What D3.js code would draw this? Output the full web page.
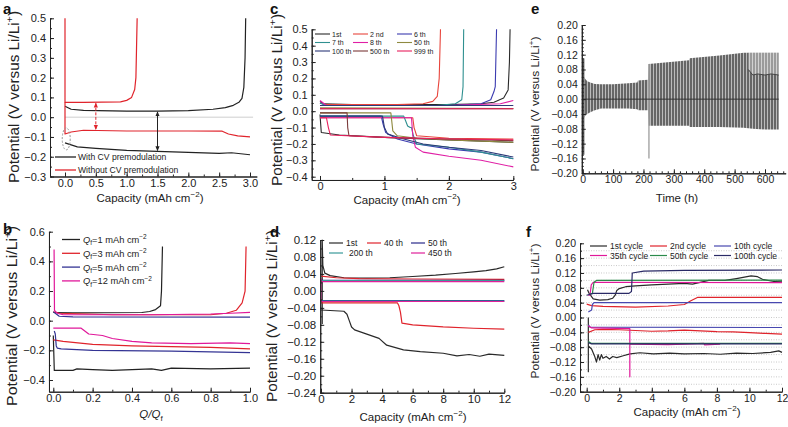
<!DOCTYPE html>
<html><head><meta charset="utf-8">
<script src="https://cdn.jsdelivr.net/npm/d3@7"></script>
<style>
body{margin:0;background:#fff}
svg{display:block}
</style></head><body>
<svg id="chart" width="788" height="427"></svg>
<script>
// ---------------- DATA ----------------
// Panel a
const aLegend = ["With CV premodulation", "Without CV premodulation"];
const aWithCharge = [[0,0.055],[0.1,0.04],[0.3,0.034],[1.0,0.031],[1.5,0.031],[2.0,0.033],[2.4,0.04],[2.6,0.048],[2.73,0.06],[2.82,0.075],[2.87,0.095],[2.9,0.15],[2.92,0.3],[2.93,0.5]];
const aWithDischarge = [[0,-0.13],[0.2,-0.15],[0.5,-0.158],[1.0,-0.168],[1.5,-0.173],[2.0,-0.178],[2.5,-0.183],[2.7,-0.18],[2.85,-0.185],[3.0,-0.19]];
const aWithoutCharge = [[0,0.5],[0,0.075],[0.3,0.075],[0.9,0.077],[1.0,0.085],[1.08,0.1],[1.13,0.14],[1.15,0.2],[1.16,0.35],[1.17,0.5]];
const aWithoutDischarge = [[0,0.075],[0,-0.085],[0.1,-0.075],[0.3,-0.066],[1.0,-0.07],[2.0,-0.07],[2.55,-0.071],[2.65,-0.085],[2.8,-0.095],[3.0,-0.1]];
const aGapX = [0.5, 1.5];
const aGapHi = [0.075, 0.031];
const aGapLo = [-0.066, -0.173];

// Panel b
const bLegendQ = ["1", "3", "5", "12"];
const bCharge = [
  [[0,0.055],[0.1,0.053],[0.45,0.055],[0.49,0.062],[0.52,0.075],[0.545,0.1],[0.55,0.2],[0.555,0.5]],
  [[0,0.06],[0.03,0.05],[0.3,0.04],[0.8,0.04],[0.88,0.05],[0.93,0.07],[0.96,0.12],[0.975,0.2],[0.98,0.5]],
  [[0,0.06],[0.03,0.03],[0.1,0.025],[1.0,0.024]],
  [[0.004,0.48],[0.006,0.07],[0.02,0.05],[0.05,0.04],[0.5,0.04],[0.8,0.045],[0.9,0.05],[1.0,0.056]]
];
const bDischarge = [
  [[0,-0.1],[0.005,-0.335],[0.1,-0.335],[0.12,-0.325],[0.2,-0.33],[0.3,-0.335],[0.4,-0.33],[0.5,-0.325],[0.55,-0.335],[0.6,-0.32],[0.8,-0.325],[1.0,-0.32]],
  [[0,-0.13],[0.05,-0.14],[0.2,-0.16],[0.4,-0.17],[0.6,-0.175],[0.8,-0.18],[1.0,-0.19]],
  [[0.005,-0.07],[0.01,-0.09],[0.015,-0.17],[0.02,-0.185],[0.04,-0.19],[0.2,-0.2],[0.6,-0.205],[1.0,-0.215]],
  [[0,-0.05],[0.14,-0.05],[0.16,-0.07],[0.18,-0.09],[0.25,-0.1],[0.3,-0.12],[0.4,-0.14],[0.5,-0.15],[0.7,-0.155],[0.9,-0.15],[1.0,-0.155]]
];

// Panel c
const cCycles = ["1st","2 nd","6 th","7 th","8 th","50 th","100 th","500 th","999 th"];
const cCharge = [
  [[0,0.06],[0.05,0.045],[0.5,0.04],[2.0,0.04],[2.5,0.045],[2.7,0.055],[2.85,0.08],[2.92,0.13],[2.94,0.3],[2.95,0.5]],
  [[0,0.05],[0.1,0.04],[1.2,0.04],[1.6,0.045],[1.75,0.06],[1.82,0.09],[1.85,0.2],[1.87,0.5]],
  [[0,0.05],[0.1,0.035],[2.0,0.035],[2.5,0.045],[2.65,0.07],[2.7,0.12],[2.72,0.15],[2.74,0.5]],
  [[0,0.05],[0.1,0.035],[1.8,0.035],[2.1,0.045],[2.2,0.07],[2.22,0.15],[2.23,0.5]],
  [[0,0.065],[0.1,0.035],[2.0,0.035],[2.8,0.045],[3.0,0.065]],
  [[0,0.02],[3.0,0.016]],
  [[0,0.035],[3.0,0.035]],
  [[0,0.015],[3.0,0.015]],
  [[0,0.015],[3.0,0.015]]
];
const cDischarge = [
  [[0,-0.02],[0.02,-0.13],[0.3,-0.145],[1.0,-0.16],[2.0,-0.175],[3.0,-0.19]],
  [[0,-0.04],[1.44,-0.04],[1.46,-0.1],[1.5,-0.15],[2.0,-0.165],[3.0,-0.17]],
  [[0,-0.03],[0.95,-0.03],[0.98,-0.08],[1.02,-0.13],[1.2,-0.17],[1.5,-0.2],[2.0,-0.23],[2.5,-0.25],[3.0,-0.29]],
  [[0,-0.03],[1.3,-0.03],[1.33,-0.06],[1.36,-0.09],[1.4,-0.1],[1.42,-0.1],[1.45,-0.15],[1.5,-0.2],[2.0,-0.22],[2.5,-0.25],[3.0,-0.29]],
  [[0,-0.04],[1.42,-0.04],[1.44,-0.15],[1.48,-0.22],[1.6,-0.25],[2.0,-0.275],[2.5,-0.3],[3.0,-0.34]],
  [[0,-0.01],[1.1,-0.01],[1.13,-0.12],[1.2,-0.15],[1.5,-0.165],[2.0,-0.175],[3.0,-0.19]],
  [[0,-0.03],[0.97,-0.03],[1.0,-0.1],[1.05,-0.14],[1.3,-0.17],[1.6,-0.2],[2.0,-0.22],[2.5,-0.24],[3.0,-0.28]],
  [[0,-0.01],[0.42,-0.01],[0.43,-0.1],[0.45,-0.15],[1.0,-0.16],[2.0,-0.17],[3.0,-0.18]],
  [[0,-0.04],[0.1,-0.04],[0.13,-0.1],[0.16,-0.145],[1.0,-0.16],[2.0,-0.17],[3.0,-0.175]]
];

// Panel d
const dCycles = ["1st","40 th","50 th","200 th","450 th"];
const dCharge = [
  [[0.08,-0.078],[0.08,0.12],[0.12,0.06],[0.25,0.042],[0.6,0.036],[1.5,0.031],[3,0.03],[4.5,0.031],[6,0.034],[7.5,0.037],[8.8,0.041],[10,0.045],[10.8,0.048],[11.5,0.052],[12,0.057]],
  [[0,0.035],[1,0.031],[2.5,0.029],[6,0.028],[12,0.027]],
  [[0,0.025],[12,0.025]],
  [[0,0.024],[12,0.024]],
  [[0,0.022],[12,0.022]]
];
const dDischarge = [
  [[0,-0.045],[1.5,-0.048],[1.7,-0.055],[1.85,-0.07],[2.0,-0.085],[2.2,-0.092],[3.0,-0.102],[3.8,-0.112],[4.3,-0.128],[5.4,-0.139],[6.5,-0.143],[8.0,-0.147],[8.9,-0.153],[9.7,-0.15],[10.4,-0.154],[11,-0.149],[12,-0.152]],
  [[0,-0.028],[5.0,-0.028],[5.1,-0.035],[5.2,-0.05],[5.3,-0.076],[6,-0.08],[8,-0.085],[10,-0.088],[12,-0.09]],
  [[0,-0.023],[12,-0.023]],
  [[0,-0.024],[12,-0.024]],
  [[0,0.03],[0,-0.025],[12,-0.025]]
];

// Panel e (envelope of the cycling trace)
const eTime  = [0, 5, 8, 15, 25, 40, 60, 100, 150, 180, 182, 215, 217, 350, 352, 450, 530, 560, 600, 645];
const eUpper = [0.06, 0.06, 0.055, 0.048, 0.045, 0.041, 0.04, 0.04, 0.043, 0.045, 0.05, 0.052, 0.095, 0.105, 0.11, 0.118, 0.125, 0.125, 0.125, 0.125];
const eLower = [-0.05, -0.05, -0.045, -0.04, -0.035, -0.03, -0.025, -0.025, -0.025, -0.027, -0.03, -0.03, -0.072, -0.072, -0.075, -0.075, -0.077, -0.08, -0.082, -0.082];
const eInnerTime = [545, 560, 575, 600, 620, 645];
const eInnerVal  = [0.08, 0.065, 0.068, 0.065, 0.068, 0.065];
const eSpikeTime = [3, 218];
const eSpikeHi   = [0.11, 0.095];
const eSpikeLo   = [-0.15, -0.16];

// Panel f
const fCycles = ["1st cycle","2nd cycle","10th cycle","35th cycle","50th cycle","100th cycle"];
const fCharge = [
  [[0.05,0.075],[0.15,0.065],[0.4,0.05],[0.8,0.047],[1.3,0.048],[1.6,0.052],[1.75,0.06],[1.85,0.073],[2.0,0.078],[2.4,0.083],[3.0,0.085],[4.0,0.088],[5,0.09],[6.0,0.092],[6.5,0.09],[7.5,0.1],[8.5,0.1],[9.2,0.105],[10.1,0.112],[10.5,0.11],[10.8,0.103],[11.5,0.097],[12,0.098]],
  [[0,0.036],[0.3,0.032],[1,0.03],[3,0.028],[5,0.031],[6.0,0.035],[6.4,0.045],[6.8,0.054],[12,0.054]],
  [[0.1,0.015],[0.3,0.02],[0.35,0.035],[0.45,0.04],[12,0.04]],
  [[0.1,0.06],[0.2,0.06],[0.28,0.088],[0.4,0.095],[12,0.094]],
  [[0.15,0.062],[0.35,0.065],[0.45,0.095],[0.6,0.1],[12,0.101]],
  [[0,0.06],[0.4,0.065],[2.6,0.065],[2.75,0.07],[2.8,0.12],[3.5,0.125],[6,0.127],[12,0.128]]
];
const fDischarge = [
  [[0.1,0.0],[0.1,-0.146],[0.1,-0.077],[0.3,-0.085],[0.5,-0.106],[0.6,-0.12],[0.7,-0.1],[0.8,-0.115],[0.9,-0.1],[1.0,-0.11],[1.2,-0.105],[1.4,-0.112],[1.6,-0.105],[1.85,-0.108],[2.25,-0.103],[2.66,-0.098],[3.27,-0.095],[4.1,-0.098],[5.1,-0.096],[6,-0.098],[7.2,-0.097],[8.2,-0.099],[9.2,-0.096],[10.2,-0.097],[11.3,-0.094],[11.8,-0.09],[12,-0.094]],
  [[0.1,-0.04],[0.5,-0.033],[1,-0.032],[2,-0.033],[3,-0.035],[4,-0.037],[5,-0.036],[6,-0.034],[7,-0.036],[8,-0.038],[9,-0.039],[10,-0.041],[11,-0.043],[12,-0.045]],
  [[0.1,-0.02],[0.2,-0.026],[12,-0.027]],
  [[0.1,-0.022],[0.3,-0.028],[2.65,-0.03],[2.65,-0.16],[2.65,-0.072],[2.8,-0.072],[5,-0.073],[6,-0.072],[7.2,-0.07],[7.25,-0.074],[8.2,-0.072]],
  [[0.1,-0.065],[0.3,-0.07],[12,-0.07]],
  [[0.1,-0.068],[0.3,-0.071],[12,-0.071]]
];

// ---------------- DRAWING ----------------
const FONT = '"Liberation Sans", Arial, Helvetica, sans-serif';
const svg = d3.select("#chart").attr("font-family", FONT);
const defs = svg.append("defs");

function rich(sel, parts, size) {
  let shift = 0;
  parts.forEach(([t, k]) => {
    const ts = sel.append("tspan").text(t);
    let target = 0, fs = size;
    if (k.includes("sup")) { target = -size * 0.4; fs = size * 0.7; }
    if (k.includes("sub")) { target = size * 0.25; fs = size * 0.7; }
    ts.attr("dy", target - shift).attr("font-size", fs);
    if (k.includes("i")) ts.attr("font-style", "italic");
    shift = target;
  });
  return sel;
}
const capParts = [["Capacity (mAh cm","n"],["\u22122","sup"],[")","n"]];
const potParts = [["Potential (V versus Li/Li","n"],["+","sup"],[")","n"]];

function panel(cfg) {
  const g = svg.append("g");
  const x = d3.scaleLinear().domain(cfg.xAnchor).range(cfg.xPx);
  const y = d3.scaleLinear().domain(cfg.yAnchor).range(cfg.yPx);
  const xa = d3.scaleLinear().domain(cfg.xFrame).range(cfg.xFrame.map(x));
  const ya = d3.scaleLinear().domain(cfg.yFrame).range(cfg.yFrame.map(y));
  const by = y(cfg.yFrame[0]), lx = x(cfg.xFrame[0]);
  const plot = g.append("g");
  const axG = g.append("g");
  const st = s => {
    s.attr("font-family", FONT).attr("font-size", cfg.tickFont || 11);
    s.selectAll("path,line").attr("stroke", "#222").attr("stroke-width", 1);
    s.selectAll("text").attr("fill", "#222");
  };
  axG.append("g").attr("transform", `translate(0,${by})`)
    .call(d3.axisBottom(xa).tickValues(cfg.xMinor).tickSize(-2).tickSizeOuter(0).tickFormat("")).call(st);
  axG.append("g").attr("transform", `translate(0,${by})`)
    .call(d3.axisBottom(xa).tickValues(cfg.xTicks).tickSize(-4).tickSizeOuter(0).tickPadding(2.5).tickFormat(d3.format(cfg.xFmt))).call(st);
  axG.append("g").attr("transform", `translate(${lx},0)`)
    .call(d3.axisLeft(ya).tickValues(cfg.yMinor).tickSize(-2).tickSizeOuter(0).tickFormat("")).call(st);
  axG.append("g").attr("transform", `translate(${lx},0)`)
    .call(d3.axisLeft(ya).tickValues(cfg.yTicks).tickSize(-4).tickSizeOuter(0).tickPadding(4).tickFormat(d3.format(cfg.yFmt))).call(st);
  const xt = g.append("text").attr("x", cfg.xTitlePos[0]).attr("y", cfg.xTitlePos[1])
    .attr("text-anchor", "middle").attr("font-size", 11.5).attr("fill", "#222");
  rich(xt, cfg.xTitle, 11.5);
  const yt = g.append("text").attr("transform", `translate(${cfg.yTitlePos[0]},${cfg.yTitlePos[1]}) rotate(-90)`)
    .attr("text-anchor", "middle").attr("font-size", cfg.yTitleFont).attr("fill", "#222")
    .attr("textLength", cfg.yTitleLen).attr("lengthAdjust", "spacingAndGlyphs");
  rich(yt, potParts, cfg.yTitleFont);
  g.append("text").attr("x", cfg.letterPos[0]).attr("y", cfg.letterPos[1]).attr("font-weight", "bold")
    .attr("font-size", 15).attr("fill", "#111").text(cfg.letter);
  return { g, plot, x, y };
}
function line(p, data, color, w) {
  p.plot.append("path").datum(data)
    .attr("d", d3.line().x(d => p.x(d[0])).y(d => p.y(d[1])))
    .attr("fill", "none").attr("stroke", color).attr("stroke-width", w || 1.2)
    .attr("stroke-linejoin", "round");
}
function legendLine(g, x1, x2, y, color, w) {
  g.append("line").attr("x1", x1).attr("x2", x2).attr("y1", y).attr("y2", y)
    .attr("stroke", color).attr("stroke-width", w || 1.3);
}

// ---- Panel a ----
const pa = panel({
  xAnchor: [0, 3], xPx: [65, 250], yAnchor: [0.5, -0.3], yPx: [18.3, 176.5],
  xFrame: [-0.243, 3.11], yFrame: [-0.3, 0.5],
  xTicks: d3.range(0, 3.01, 0.5), xMinor: d3.range(0, 3.01, 0.25), xFmt: ".1f",
  yTicks: d3.range(-0.3, 0.51, 0.1).map(v => +v.toFixed(2)), yMinor: d3.range(-0.3, 0.51, 0.05).map(v => +v.toFixed(3)), yFmt: ".1f",
  xTitle: capParts, xTitlePos: [150, 202], yTitlePos: [19, 97], yTitleFont: 14, yTitleLen: 172,
  letter: "a", letterPos: [3, 14]
});
pa.plot.append("line").attr("x1", pa.x(0)).attr("x2", pa.x(3.05)).attr("y1", pa.y(0)).attr("y2", pa.y(0))
  .attr("stroke", "#cfcfcf").attr("stroke-width", 1);
const aRed = "#e0242c", aBlack = "#222";
line(pa, aWithCharge, aBlack); line(pa, aWithDischarge, aBlack);
line(pa, aWithoutCharge, aRed); line(pa, aWithoutDischarge, aRed);
["r","k"].forEach((id, i) => {
  const m = defs.append("marker").attr("id", "arr" + id).attr("viewBox", "0 0 6 6").attr("refX", 5).attr("refY", 3)
    .attr("markerWidth", 5).attr("markerHeight", 5).attr("orient", "auto-start-reverse");
  m.append("path").attr("d", "M0,0.5 L6,3 L0,5.5 Z").attr("fill", i ? aBlack : aRed);
});
aGapX.forEach((gx, i) => {
  pa.plot.append("line").attr("x1", pa.x(gx)).attr("x2", pa.x(gx)).attr("y1", pa.y(aGapHi[i]) + 1).attr("y2", pa.y(aGapLo[i]) - 1)
    .attr("stroke", i ? aBlack : aRed).attr("stroke-width", 1)
    .attr("stroke-dasharray", i ? null : "3,1.5")
    .attr("marker-start", `url(#arr${i ? "k" : "r"})`).attr("marker-end", `url(#arr${i ? "k" : "r"})`);
});
pa.plot.append("ellipse").attr("cx", pa.x(0.02)).attr("cy", pa.y(-0.11)).attr("rx", 4).attr("ry", 11)
  .attr("fill", "none").attr("stroke", "#999").attr("stroke-dasharray", "2,1.5");
aLegend.forEach((t, i) => {
  const yy = 157 + i * 13;
  legendLine(pa.g, 55, 76, yy, i ? aRed : aBlack);
  pa.g.append("text").attr("x", 78).attr("y", yy + 3).attr("font-size", 8.6).attr("fill", "#222").text(t);
});

// ---- Panel b ----
const pb = panel({
  xAnchor: [0, 1], xPx: [53.3, 250], yAnchor: [0.6, -0.4], yPx: [231.7, 380],
  xFrame: [-0.022, 1.0], yFrame: [-0.479, 0.6],
  xTicks: d3.range(0, 1.01, 0.2).map(v => +v.toFixed(2)), xMinor: d3.range(0, 1.01, 0.1).map(v => +v.toFixed(2)), xFmt: ".1f",
  yTicks: [-0.4, -0.2, 0, 0.2, 0.4, 0.6], yMinor: [-0.4, -0.3, -0.2, -0.1, 0, 0.1, 0.2, 0.3, 0.4, 0.5, 0.6], yFmt: ".1f",
  xTitle: [["Q","i"],["/","i"],["Q","i"],["f","sub"]], xTitlePos: [151, 418], yTitlePos: [17, 316], yTitleFont: 14, yTitleLen: 180,
  letter: "b", letterPos: [3, 234]
});
const bColors = ["#222", "#e0242c", "#343494", "#e0189a"];
bCharge.forEach((d, i) => line(pb, d, bColors[i]));
bDischarge.forEach((d, i) => line(pb, d, bColors[i]));
bLegendQ.forEach((q, i) => {
  const yy = 239.5 + i * 13.8;
  legendLine(pb.g, 62, 80, yy, bColors[i]);
  const t = pb.g.append("text").attr("x", 83).attr("y", yy + 3.5).attr("font-size", 9.3).attr("fill", "#222");
  rich(t, [["Q","i"],["f","sub"],["=" + q + " mAh cm","n"],["\u22122","sup"]], 9.3);
});

// ---- Panel c ----
const pc = panel({
  xAnchor: [0, 3], xPx: [320, 513.3], yAnchor: [0.5, -0.4], yPx: [29.3, 176.7],
  xFrame: [-0.129, 3.0], yFrame: [-0.42, 0.5],
  xTicks: [0, 1, 2, 3], xMinor: [0, 0.5, 1, 1.5, 2, 2.5, 3], xFmt: "d",
  yTicks: d3.range(-0.4, 0.51, 0.1).map(v => +v.toFixed(2)), yMinor: d3.range(-0.4, 0.51, 0.05).map(v => +v.toFixed(3)), yFmt: ".1f",
  xTitle: capParts, xTitlePos: [407, 204], yTitlePos: [282, 100], yTitleFont: 14, yTitleLen: 172,
  letter: "c", letterPos: [270, 14]
});
const cColors = ["#2a2a2a", "#e8453c", "#3b3bb0", "#2f9090", "#e01fa5", "#8f8a40", "#2d3a78", "#7a3a3a", "#e8205e"];
cDischarge.forEach((d, i) => line(pc, d, cColors[i], 1.1));
cCharge.forEach((d, i) => line(pc, d, cColors[i], 1.1));
cCycles.forEach((t, i) => {
  const col = i % 3, row = Math.floor(i / 3);
  const lx0 = [315, 353, 397][col], yy = 34 + row * 8.5;
  legendLine(pc.g, lx0, lx0 + 15, yy, cColors[i], 1.1);
  pc.g.append("text").attr("x", lx0 + 17).attr("y", yy + 2.5).attr("font-size", 7).attr("fill", "#222").text(t);
});

// ---- Panel d ----
const pd = panel({
  xAnchor: [0, 12], xPx: [321, 504.3], yAnchor: [0.12, -0.24], yPx: [240, 392.7],
  xFrame: [-0.05, 12], yFrame: [-0.24, 0.12],
  xTicks: d3.range(0, 12.1, 2), xMinor: d3.range(0, 12.1, 1), xFmt: "d",
  yTicks: d3.range(-0.24, 0.121, 0.04).map(v => +v.toFixed(2)), yMinor: d3.range(-0.24, 0.121, 0.02).map(v => +v.toFixed(2)), yFmt: ".2f",
  xTitle: capParts, xTitlePos: [413, 421], yTitlePos: [277, 316], yTitleFont: 14, yTitleLen: 172,
  letter: "d", letterPos: [270, 237], tickFont: 11.5
});
const dColors = ["#2a2a2a", "#e0242c", "#2a2a8a", "#3a9a9a", "#e0209a"];
dCharge.forEach((d, i) => line(pd, d, dColors[i], 1.2));
dDischarge.forEach((d, i) => line(pd, d, dColors[i], 1.2));
const dLegPos = [[329, 243], [367, 243], [411, 243], [329, 253], [411, 253]];
dCycles.forEach((t, i) => {
  const [lx0, yy] = dLegPos[i];
  legendLine(pd.g, lx0, lx0 + 14, yy, dColors[i], 1.2);
  pd.g.append("text").attr("x", lx0 + (i === 3 ? 20 : 17)).attr("y", yy + 3).attr("font-size", 8.5).attr("fill", "#222").text(t);
});

// ---- Panel e ----
const pe = panel({
  xAnchor: [0, 600], xPx: [582.7, 765], yAnchor: [0.2, -0.2], yPx: [25, 173.3],
  xFrame: [-3, 668], yFrame: [-0.2, 0.2],
  xTicks: d3.range(0, 601, 100), xMinor: d3.range(0, 661, 20), xFmt: "d",
  yTicks: d3.range(-0.2, 0.201, 0.04).map(v => +v.toFixed(2)), yMinor: d3.range(-0.2, 0.201, 0.01).map(v => +v.toFixed(3)), yFmt: ".2f",
  xTitle: [["Time (h)","n"]], xTitlePos: [677, 202], yTitlePos: [539, 104], yTitleFont: 11.5, yTitleLen: 135,
  letter: "e", letterPos: [531, 14], tickFont: 10.5
});
const pat = defs.append("pattern").attr("id", "ebars").attr("patternUnits", "userSpaceOnUse").attr("width", 3).attr("height", 10);
pat.append("rect").attr("width", 3).attr("height", 10).attr("fill", "#666");
pat.append("rect").attr("x", 2).attr("width", 1).attr("height", 10).attr("fill", "#bbb");
const eEnv = eTime.map((t, i) => [t, eUpper[i], eLower[i]]);
pe.plot.append("path").datum(eEnv)
  .attr("d", d3.area().x(d => pe.x(d[0])).y0(d => pe.y(d[2])).y1(d => pe.y(d[1])))
  .attr("fill", "url(#ebars)");
const eInner = eInnerTime.map((t, i) => [t, eInnerVal[i]]);
const eUpAt = t => eUpper[d3.bisectLeft(eTime, t)] ?? eUpper[eUpper.length - 1];
pe.plot.append("path").datum(eInner)
  .attr("d", d3.area().x(d => pe.x(d[0])).y0(d => pe.y(d[1])).y1(d => pe.y(eUpAt(d[0]))))
  .attr("fill", "#fff").attr("opacity", 0.35);
line(pe, eInner, "#444", 1);
eSpikeTime.forEach((t, i) => {
  pe.plot.append("line").attr("x1", pe.x(t)).attr("x2", pe.x(t)).attr("y1", pe.y(eSpikeHi[i])).attr("y2", pe.y(eSpikeLo[i]))
    .attr("stroke", i ? "#aaa" : "#555").attr("stroke-width", 1.5);
});
line(pe, [[0, 0], [645, 0]], "#333", 1);

// ---- Panel f ----
const pf = panel({
  xAnchor: [0, 12], xPx: [586.7, 782], yAnchor: [0.2, -0.2], yPx: [243.3, 391.7],
  xFrame: [-0.41, 12], yFrame: [-0.2, 0.2],
  xTicks: d3.range(0, 12.1, 2), xMinor: d3.range(0, 12.1, 1), xFmt: "d",
  yTicks: d3.range(-0.2, 0.201, 0.04).map(v => +v.toFixed(2)), yMinor: d3.range(-0.2, 0.201, 0.02).map(v => +v.toFixed(2)), yFmt: ".2f",
  xTitle: capParts, xTitlePos: [687, 416], yTitlePos: [539, 311], yTitleFont: 11.5, yTitleLen: 135,
  letter: "f", letterPos: [526, 237], tickFont: 10.5
});
d3.range(-0.18, 0.181, 0.02).map(v => +v.toFixed(2)).forEach(v => {
  pf.plot.append("line").attr("x1", pf.x(-0.35)).attr("x2", pf.x(12)).attr("y1", pf.y(v)).attr("y2", pf.y(v))
    .attr("stroke", "#bdbdbd").attr("stroke-width", 0.8).attr("stroke-dasharray", "1,1.5");
});
const fColors = ["#2a2a2a", "#e0242c", "#4848b0", "#e0189a", "#2a8a4a", "#2a2a66"];
fCharge.forEach((d, i) => line(pf, d, fColors[i], 1.2));
fDischarge.forEach((d, i) => line(pf, d, fColors[i], 1.2));
fCycles.forEach((t, i) => {
  const col = i % 3, row = Math.floor(i / 3);
  const lx0 = [590, 650, 714][col], yy = 246 + row * 9.5;
  legendLine(pf.g, lx0, lx0 + 17, yy, fColors[i], 1.2);
  pf.g.append("text").attr("x", lx0 + 20).attr("y", yy + 3).attr("font-size", 8.5).attr("fill", "#222").text(t);
});
</script>
</body></html>
